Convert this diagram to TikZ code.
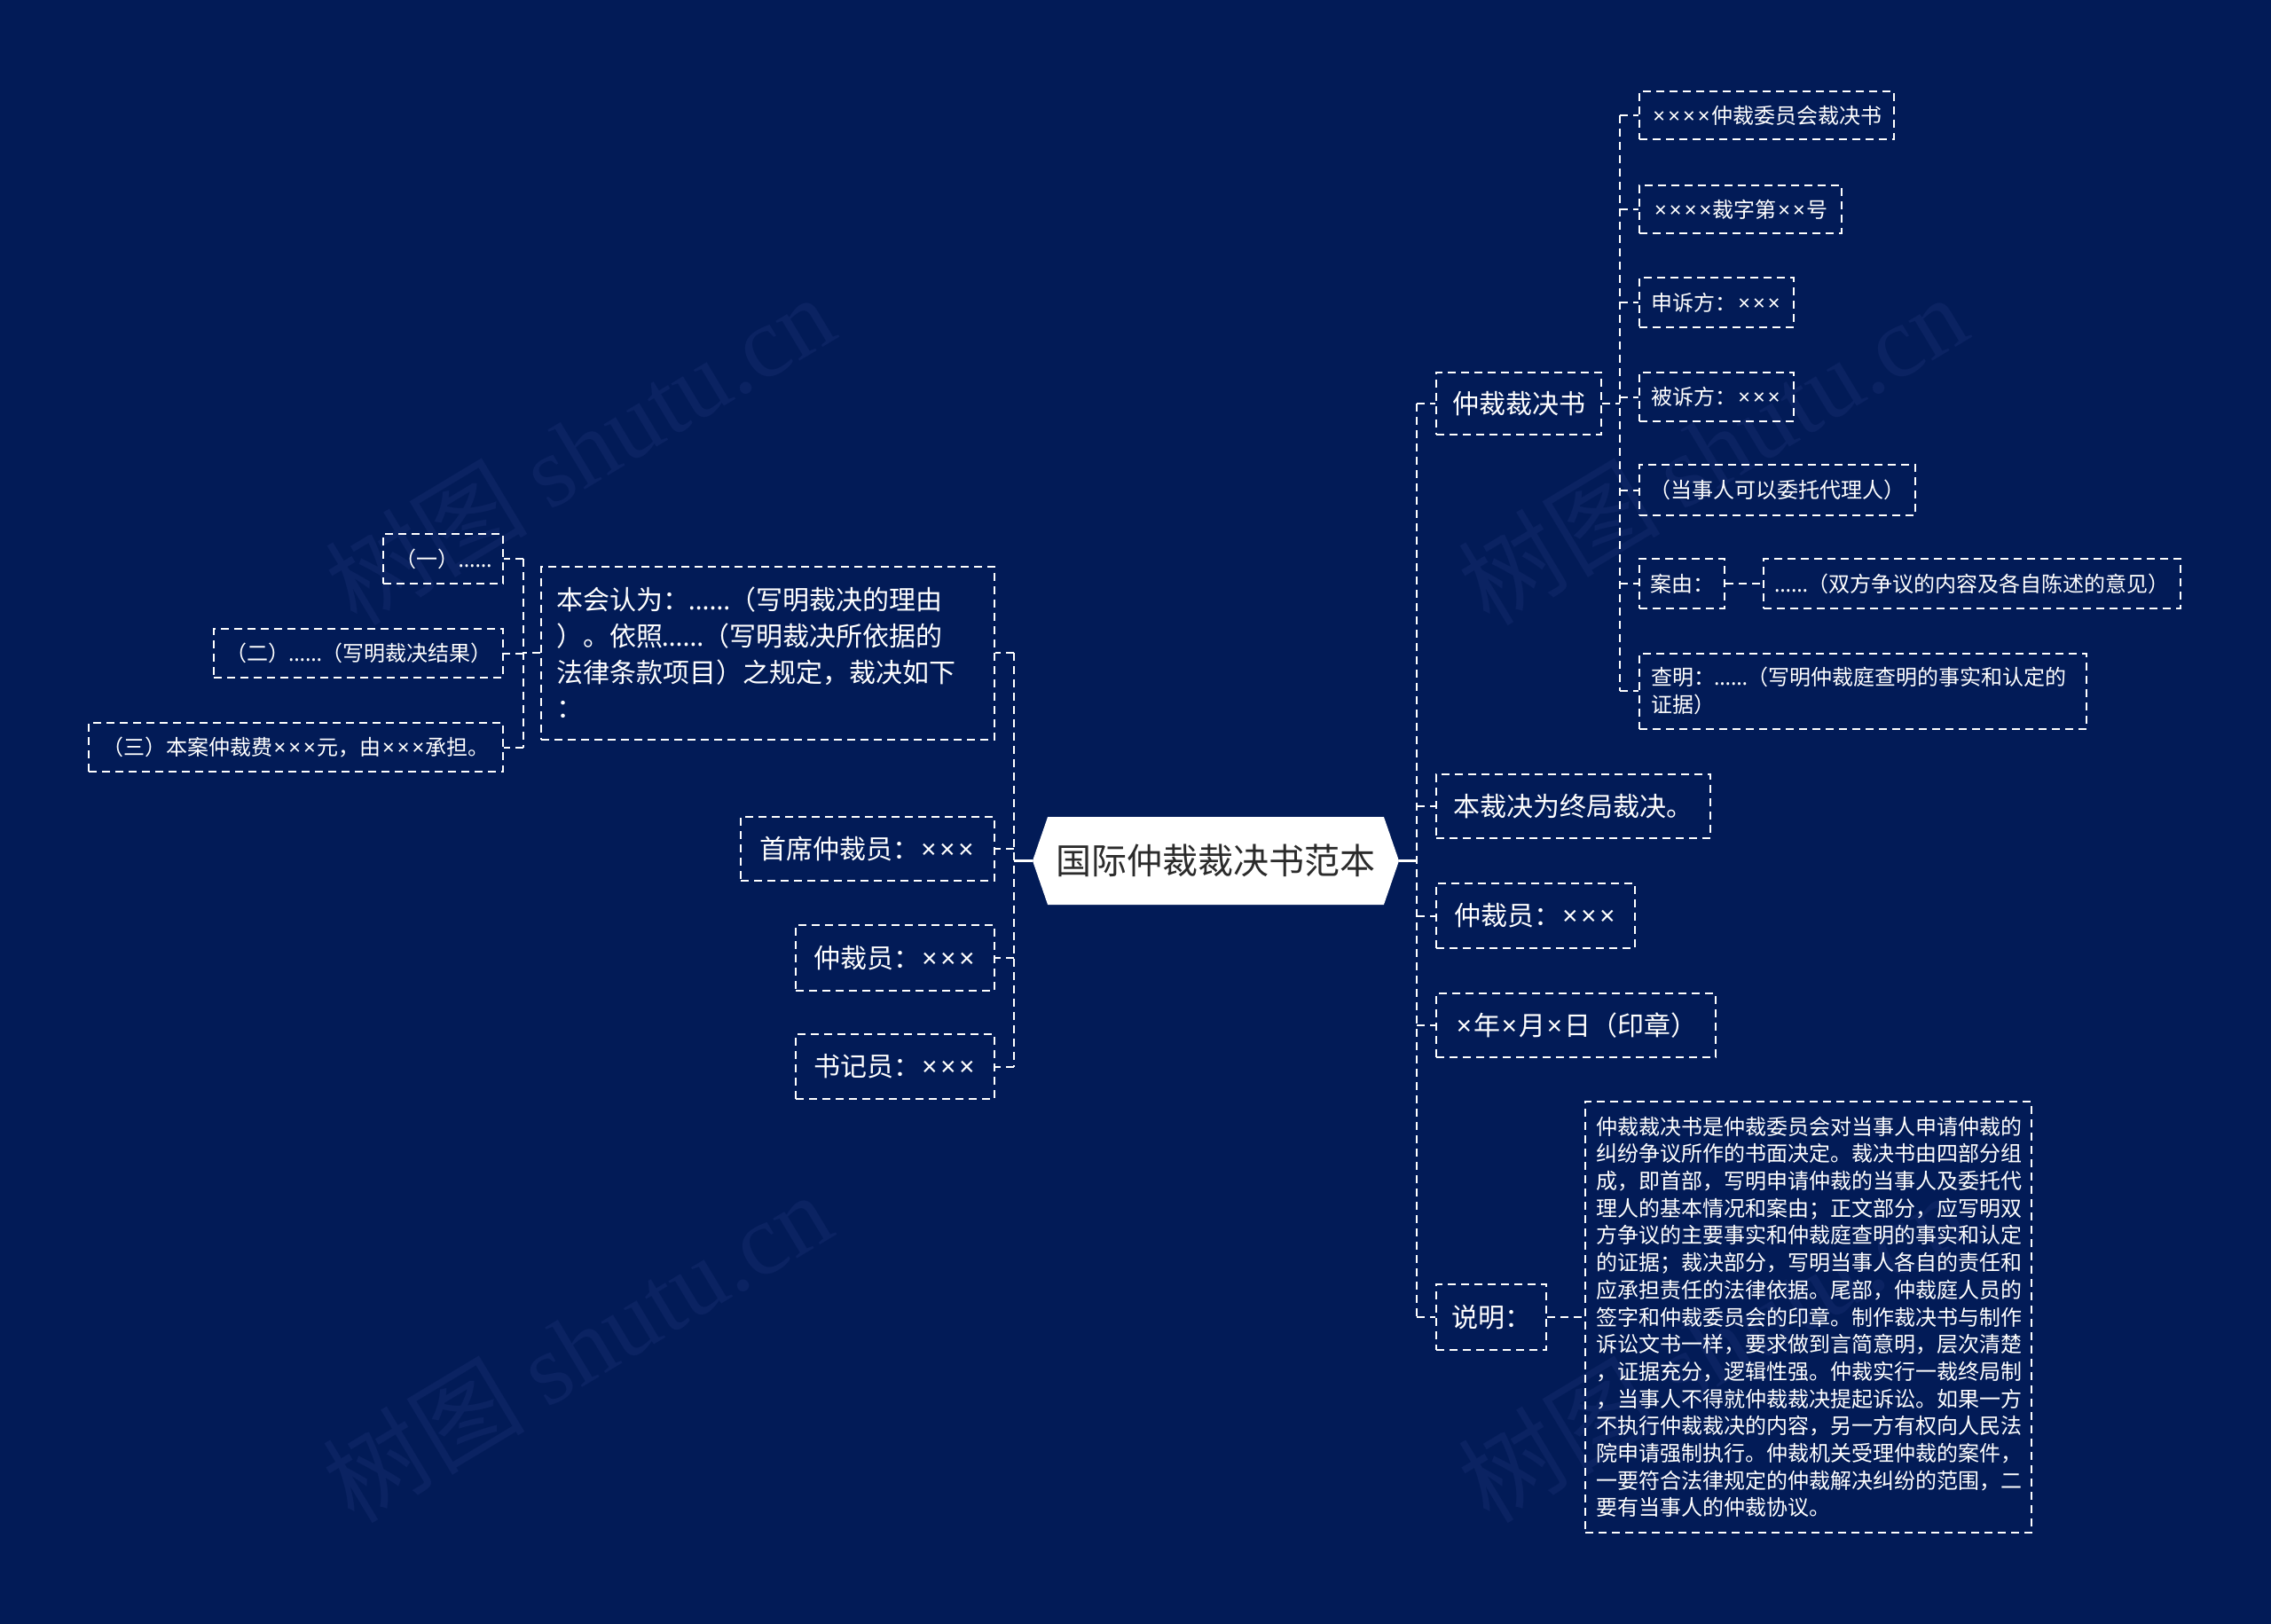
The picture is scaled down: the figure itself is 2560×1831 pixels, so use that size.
\documentclass[tikz,border=0pt]{standalone}
\usepackage{fontspec}
\setmainfont{Noto Sans CJK SC}
\newfontfamily\wmfont{Liberation Serif}
\newfontfamily\latinf{Noto Sans}
\newcommand\myx{\makebox[0.7em][c]{\latinf ×}}
\newcommand\mydots{\makebox[1.5em][c]{\latinf ……}}
\usetikzlibrary{shapes.symbols}
\definecolor{bg}{HTML}{021B57}
\definecolor{wm}{HTML}{0B2362}
\definecolor{ctext}{HTML}{2B2B2B}
\begin{document}
\begin{tikzpicture}[x=1pt,y=-1pt,
  dsh/.style={draw=white, line width=2pt, dash pattern=on 9pt off 6pt},
  box/.style={dsh, text=white, inner sep=0pt},
  big/.style={box, font=\fontsize{30}{40.8}\selectfont},
  small/.style={box, font=\fontsize{24}{30.7}\selectfont},
  conn/.style={dsh},
  solidconn/.style={draw=white, line width=2.5pt},
  wmark/.style={text=wm, rotate=31, font=\fontsize{114}{114}\selectfont},
  centre/.style={signal, signal to=west and east, signal pointer angle=142,
     fill=white, text=ctext, inner sep=0pt, minimum width=413, minimum height=99,
     font=\fontsize{40}{40}\selectfont}]
\fill[bg] (0,0) rectangle (2560,1831);
\useasboundingbox (0,0) rectangle (2560,1831);

% watermarks
\node[wmark] (w1) at (653,506) {树图 {\wmfont shutu.cn}};
\node[wmark] (w2) at (1930,506) {树图 {\wmfont shutu.cn}};
\node[wmark] (w3) at (650,1518) {树图 {\wmfont shutu.cn}};
\node[wmark] (w4) at (1930,1518) {树图 {\wmfont shutu.cn}};

% centre
\node[centre] (c) at (1370.5,970.5) {国际仲裁裁决书范本};

% right side
\node[big, anchor=west, minimum width=186, minimum height=70] (r1) at (1618,455) {仲裁裁决书};
\node[small, anchor=west, minimum width=287, minimum height=54] (ra) at (1847,130) {\myx\myx\myx\myx 仲裁委员会裁决书};
\node[small, anchor=west, minimum width=228, minimum height=54] (rb) at (1847,236) {\myx\myx\myx\myx 裁字第\myx\myx 号};
\node[small, anchor=west, minimum width=174, minimum height=56] (rc) at (1847,341) {申诉方：\myx\myx\myx};
\node[small, anchor=west, minimum width=174, minimum height=55] (rd) at (1847,447.5) {被诉方：\myx\myx\myx};
\node[small, anchor=west, minimum width=311, minimum height=57] (re) at (1847,552.5) {（当事人可以委托代理人）};
\node[small, anchor=west, minimum width=96, minimum height=56] (rf) at (1847,658) {案由：};
\node[small, anchor=west, minimum width=470, minimum height=56] (rf1) at (1987,658) {\mydots（双方争议的内容及各自陈述的意见）};
\node[small, anchor=west, minimum width=504, minimum height=85, text width=478, inner xsep=13, align=left] (rg) at (1847,779) {查明：\mydots（写明仲裁庭查明的事实和认定的\\证据）};

\node[big, anchor=west, minimum width=309, minimum height=72] (r2) at (1618,909) {本裁决为终局裁决。};
\node[big, anchor=west, minimum width=224, minimum height=73] (r3) at (1618,1032.5) {仲裁员：\myx\myx\myx};
\node[big, anchor=west, minimum width=315, minimum height=72] (r4) at (1618,1156) {\myx 年\myx 月\myx 日（印章）};
\node[big, anchor=west, minimum width=124, minimum height=74] (r5) at (1618,1485) {说明：};
\node[small, anchor=west, minimum width=503, minimum height=486, text width=479, inner xsep=12, align=left] (r5c) at (1786,1485) {仲裁裁决书是仲裁委员会对当事人申请仲裁的\\纠纷争议所作的书面决定。裁决书由四部分组\\成，即首部，写明申请仲裁的当事人及委托代\\理人的基本情况和案由；正文部分，应写明双\\方争议的主要事实和仲裁庭查明的事实和认定\\的证据；裁决部分，写明当事人各自的责任和\\应承担责任的法律依据。尾部，仲裁庭人员的\\签字和仲裁委员会的印章。制作裁决书与制作\\诉讼文书一样，要求做到言简意明，层次清楚\\，证据充分，逻辑性强。仲裁实行一裁终局制\\，当事人不得就仲裁裁决提起诉讼。如果一方\\不执行仲裁裁决的内容，另一方有权向人民法\\院申请强制执行。仲裁机关受理仲裁的案件，\\一要符合法律规定的仲裁解决纠纷的范围，二\\要有当事人的仲裁协议。};

% left side
\node[big, anchor=east, minimum width=511, minimum height=195, text width=477, inner xsep=17, align=left] (l1) at (1122,736) {本会认为：\mydots（写明裁决的理由\\）。依照\mydots（写明裁决所依据的\\法律条款项目）之规定，裁决如下\\：};
\node[small, anchor=east, minimum width=135, minimum height=56] (l1a) at (568,630) {（一）\mydots};
\node[small, anchor=east, minimum width=326, minimum height=55] (l1b) at (568,736.5) {（二）\mydots（写明裁决结果）};
\node[small, anchor=east, minimum width=467, minimum height=55] (l1c) at (568,842.5) {（三）本案仲裁费\myx\myx\myx 元，由\myx\myx\myx 承担。};
\node[big, anchor=east, minimum width=286, minimum height=72] (l2) at (1122,957) {首席仲裁员：\myx\myx\myx};
\node[big, anchor=east, minimum width=224, minimum height=74] (l3) at (1122,1080) {仲裁员：\myx\myx\myx};
\node[big, anchor=east, minimum width=224, minimum height=73] (l4) at (1122,1202.5) {书记员：\myx\myx\myx};

% trunk coordinates
\coordinate (RT) at (1597,0);
\coordinate (LT) at (1143,0);
\coordinate (R1T) at (1826,0);
\coordinate (L1T) at (590,0);

% right connectors
\draw[solidconn] (c.east) -- (c.east -| RT);
\draw[conn] (r1.west -| RT) -- (r5.west -| RT);
\foreach \n in {r1,r2,r3,r4,r5} \draw[conn] (\n.west -| RT) -- (\n.west);
\draw[conn] (r1.east) -- (r1.east -| R1T);
\draw[conn] (ra.west -| R1T) -- (rg.west -| R1T);
\foreach \n in {ra,rb,rc,rd,re,rf,rg} \draw[conn] (\n.west -| R1T) -- (\n.west);
\draw[conn] (rf.east) -- (rf1.west);
\draw[conn] (r5.east) -- (r5c.west);

% left connectors
\draw[solidconn] (c.west) -- (c.west -| LT);
\draw[conn] (l1.east -| LT) -- (l4.east -| LT);
\foreach \n in {l1,l2,l3,l4} \draw[conn] (\n.east -| LT) -- (\n.east);
\draw[conn] (l1.west) -- (l1.west -| L1T);
\draw[conn] (l1a.east -| L1T) -- (l1c.east -| L1T);
\foreach \n in {l1a,l1b,l1c} \draw[conn] (\n.east -| L1T) -- (\n.east);
\end{tikzpicture}
\end{document}
